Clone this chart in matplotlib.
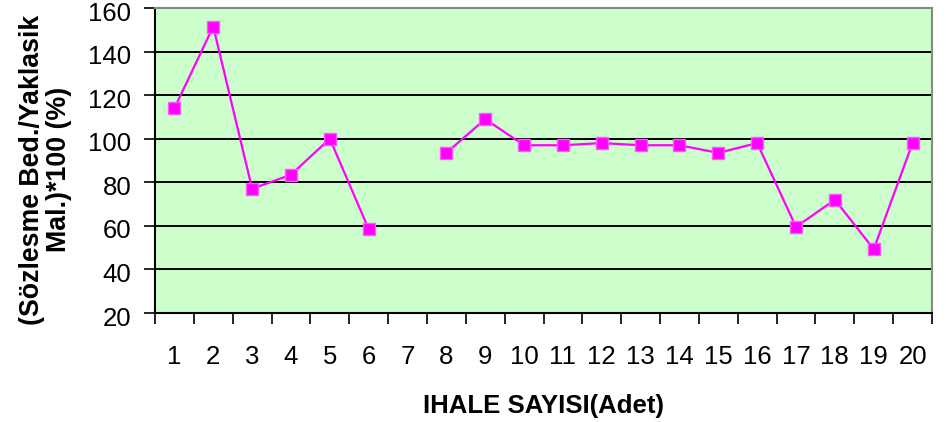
import matplotlib
matplotlib.use("Agg")
import matplotlib.pyplot as plt
import matplotlib.transforms as mtransforms
import numpy as np

categories = [str(i) for i in range(1, 21)]
values = [114, 151.5, 77, 83.5, 100, 58.5, np.nan, 93.5, 109, 97, 97, 98, 97, 97, 93.5, 98, 59.5, 72, 49.3, 98]
y_ticks = [20, 40, 60, 80, 100, 120, 140, 160]

plt.rcParams['font.family'] = ['Liberation Sans', 'DejaVu Sans']

fig = plt.figure(figsize=(9.5, 4.22), dpi=100)
ax = fig.add_axes([155/950, 1 - 313/422, (932-155)/950, (313-8)/422])
ax.set_facecolor('#CCFFCC')

x = np.arange(1, len(categories) + 1)
ax.plot(x, values, color='#FF00FF', lw=1.6, marker='s', markersize=8.3,
        markerfacecolor='#FF00FF', markeredgecolor='#FF55FF', markeredgewidth=1.0, zorder=3)

ax.set_xlim(0.5, len(categories) + 0.5)
ax.set_ylim(20, 160)
ax.set_yticks(y_ticks)
for yv in y_ticks[1:-1]:
    ax.axhline(yv, color='black', lw=1.4, zorder=1)

ax.set_xticks(np.arange(0.5, len(categories) + 1, 1))
ax.set_xticklabels([])
ax.set_xticks(x, minor=True)
ax.set_xticklabels(categories, minor=True)
ax.tick_params(axis='x', which='major', direction='out', length=8, width=1.2, color='black')
ax.tick_params(axis='x', which='minor', length=0, pad=23, labelsize=18.5)
ax.tick_params(axis='y', direction='out', length=8, width=1.2, pad=9, labelsize=18.5)

offset = mtransforms.ScaledTranslation(0, -3/100, fig.dpi_scale_trans)
for lbl in ax.get_yticklabels():
    lbl.set_transform(lbl.get_transform() + offset)

for s in ['left', 'bottom']:
    ax.spines[s].set_color('black')
    ax.spines[s].set_linewidth(1.5)
for s in ['top', 'right']:
    ax.spines[s].set_color('#888888')
    ax.spines[s].set_linewidth(1.5)

ax.set_xlabel('IHALE SAYISI(Adet)', fontsize=18.5, fontweight='bold', labelpad=18)
ax.set_ylabel('(Sözlesme Bed./Yaklasik\nMal.)*100 (%)', fontsize=19.3, fontweight='bold',
              linespacing=1.05)
ax.yaxis.set_label_coords(-0.107, 0.47)

fig.savefig('out.png', dpi=100)
